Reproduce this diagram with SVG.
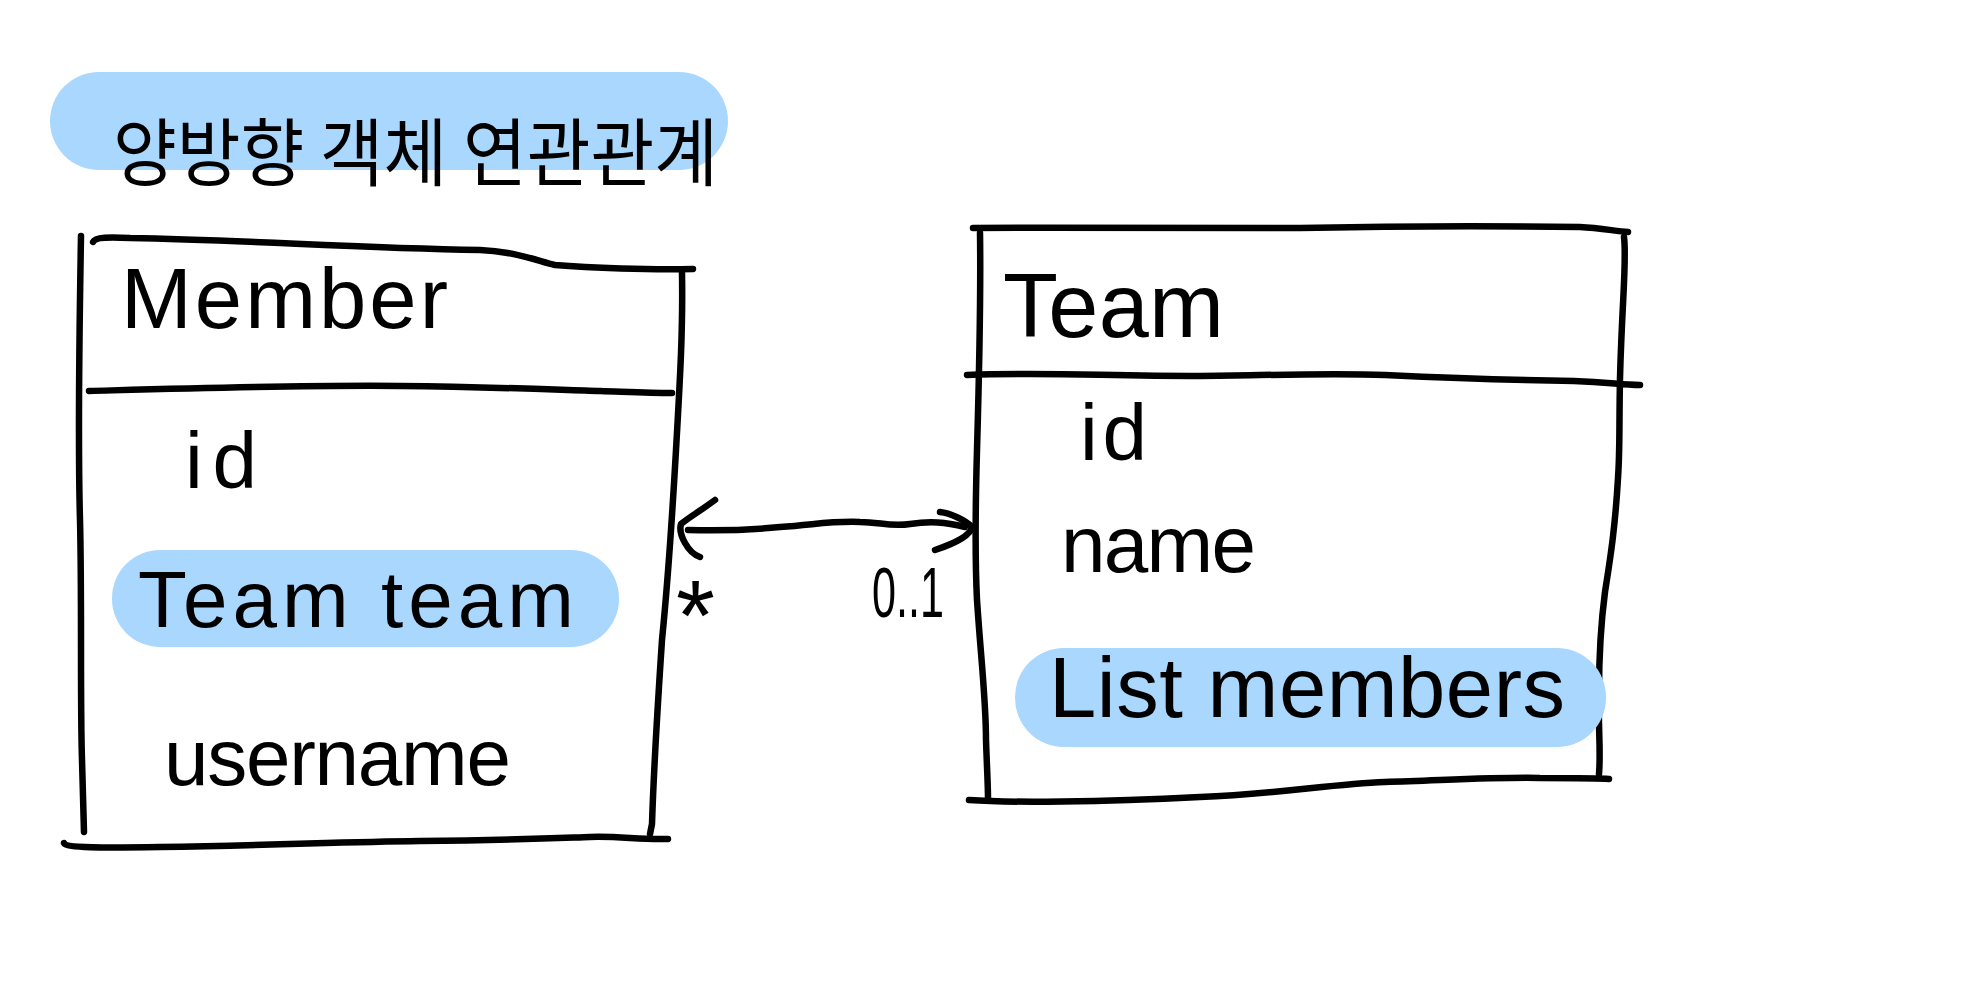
<svg xmlns="http://www.w3.org/2000/svg" width="1974" height="1000" viewBox="0 0 1974 1000">
<style>
.ink{fill:none;stroke:#000;stroke-width:6.5;stroke-linecap:round;stroke-linejoin:round}
.hl{fill:#aad7fd}
.t{font-family:"Liberation Sans","Noto Sans CJK KR",sans-serif;fill:#000}
.k{font-family:"Noto Sans CJK KR","Liberation Sans",sans-serif;fill:#000}
</style>
<rect width="1974" height="1000" fill="#fff"/>
<g id="title">
<rect class="hl" x="50" y="72" width="678" height="98" rx="49"/>
<text class="k" x="113" y="180" font-size="74" textLength="605" lengthAdjust="spacingAndGlyphs">양방향 객체 연관관계</text>
</g>
<g id="member">
<path class="ink" d="M81,236 C79,350 78,450 80,520 C82,600 80,700 82,760 L84,832"/>
<path class="ink" d="M93,242 C95,237 110,237 130,238 C250,240 350,248 480,250 C520,252 540,262 555,265 C590,268 650,270 693,269"/>
<path class="ink" d="M682,273 C683,330 680,380 676,450 C672,520 668,580 662,640 C658,700 654,760 652,824 L650,834"/>
<path class="ink" d="M64,843 C66,848 100,848 160,847 C280,845 340,842 420,841 C520,840 560,838 590,837 C620,836 640,840 668,839"/>
<path class="ink" d="M89,391 C200,388 300,385 400,386 C500,387 560,390 600,391 C630,392 650,393 672,393"/>
<text class="t" x="121" y="328" font-size="85" textLength="327">Member</text>
<text class="t" x="185" y="488" font-size="80" textLength="72">id</text>
<rect class="hl" x="112" y="550" width="507" height="97" rx="48"/>
<text class="t" x="138" y="627" font-size="80" textLength="436">Team team</text>
<text class="t" x="164" y="785" font-size="80" textLength="347">username</text>
</g>
<g id="team">
<path class="ink" d="M973,228 C1100,227 1250,229 1300,228 C1400,226 1500,226 1580,227 C1600,228 1615,231 1628,232"/>
<path class="ink" d="M980,233 C981,300 979,380 977,450 C975,520 975,560 977,600 C981,660 986,700 986,740 C987,770 988,785 988,799"/>
<path class="ink" d="M1624,237 C1627,260 1622,300 1620,378 C1619,430 1620,450 1618,478 C1615,530 1610,560 1605,592 C1600,630 1599,670 1599,692 C1598,730 1601,750 1599,774"/>
<path class="ink" d="M969,800 C1010,803 1100,802 1200,797 C1280,794 1330,784 1385,782 C1450,780 1500,777 1540,778 C1580,778 1600,778 1609,779"/>
<path class="ink" d="M967,375 C1050,372 1100,376 1200,376 C1280,375 1330,373 1385,375 C1450,378 1500,380 1574,381 C1610,382 1620,385 1640,385"/>
<text class="t" x="1003" y="337" font-size="90" textLength="221">Team</text>
<text class="t" x="1080" y="460" font-size="80" textLength="67">id</text>
<text class="t" x="1061" y="572" font-size="80" textLength="195">name</text>
<rect class="hl" x="1015" y="648" width="591" height="99" rx="49"/>
<text class="t" x="1049" y="717" font-size="85" textLength="516">List members</text>
</g>
<g id="connectors">
<path class="ink" d="M688,530 C720,531 750,530 780,527 C820,524 830,521 860,522 C880,522 890,527 910,524 C930,521 945,522 965,527"/>
<path class="ink" d="M715,500 C700,511 688,518 681,524 C678,534 688,553 700,557"/>
<path class="ink" d="M940,512 C950,513 965,520 972,527 C970,537 950,545 935,550"/>
<text class="t" x="676" y="650" font-size="100">*</text>
<text class="t" x="872" y="617" font-size="70" textLength="72" lengthAdjust="spacingAndGlyphs">0..1</text>
</g>
</svg>
